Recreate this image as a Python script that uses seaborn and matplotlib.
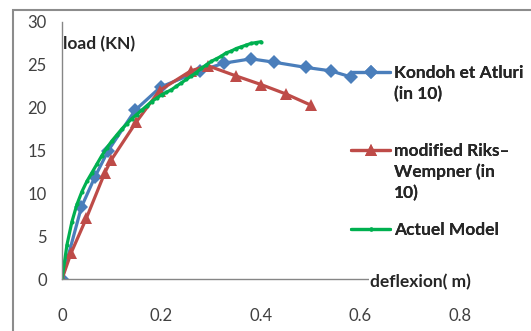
import seaborn as sns
import matplotlib.pyplot as plt
import pandas as pd
import numpy as np
from matplotlib.lines import Line2D
from matplotlib.patches import Rectangle

# deflexion (m) / load (KN)
kondoh_x = [0, 0.039, 0.066, 0.093, 0.147, 0.198, 0.277, 0.326, 0.38, 0.427, 0.49, 0.54, 0.58]
kondoh_y = [0, 8.4, 11.9, 15.0, 19.7, 22.4, 24.3, 25.2, 25.7, 25.3, 24.7, 24.3, 23.6]

riks_x = [0, 0.018, 0.049, 0.086, 0.099, 0.149, 0.196, 0.259, 0.293, 0.35, 0.4, 0.45, 0.5]
riks_y = [0, 3.0, 7.1, 12.4, 13.9, 18.3, 22.0, 24.3, 24.9, 23.7, 22.7, 21.6, 20.3]

actuel_x = [0, 0.01, 0.02, 0.03, 0.04, 0.05, 0.06, 0.07, 0.08, 0.09, 0.1,
            0.11, 0.12, 0.13, 0.14, 0.15, 0.16, 0.17, 0.18, 0.19, 0.2,
            0.21, 0.22, 0.23, 0.24, 0.25, 0.26, 0.27, 0.28, 0.29, 0.3,
            0.31, 0.32, 0.33, 0.34, 0.35, 0.36, 0.37, 0.38, 0.39, 0.4]
actuel_y = [0, 4.0, 6.7, 8.7, 10.2, 11.4, 12.4, 13.4, 14.4, 15.3, 16.1,
            16.8, 17.5, 18.1, 18.7, 19.2, 19.7, 20.2, 20.7, 21.1, 21.5,
            21.8, 22.1, 22.5, 22.9, 23.3, 23.7, 24.1, 24.6, 25.0, 25.4,
            25.7, 26.0, 26.4, 26.6, 26.9, 27.1, 27.3, 27.5, 27.6, 27.7]

labels = ["Kondoh et Atluri\n(in 10)", "modified Riks\u2013\nWempner (in\n10)", "Actuel Model"]
colors = ["#4A7EBB", "#BE4B48", "#00B050"]

sns.set_style("white")
plt.rcParams['font.family'] = ['Lato', 'DejaVu Sans']

fig = plt.figure(figsize=(5.31, 3.31), dpi=100)
ax = fig.add_axes([62/531, 1-279/331, 398/531, 257/331])

sns.lineplot(x=kondoh_x, y=kondoh_y, ax=ax, color=colors[0], lw=2.3, marker='D',
             markersize=7, markeredgewidth=0, sort=False, estimator=None)
sns.lineplot(x=riks_x, y=riks_y, ax=ax, color=colors[1], lw=2.3, marker='^',
             markersize=8, markeredgewidth=0, sort=False, estimator=None)
sns.lineplot(x=actuel_x, y=actuel_y, ax=ax, color=colors[2], lw=2.3, marker='o',
             markersize=3, markeredgewidth=0, sort=False, estimator=None)

ax.set_xlim(0, 0.8)
ax.set_ylim(0, 30)
ax.set_xticks([0, 0.2, 0.4, 0.6, 0.8])
ax.set_xticklabels(["0", "0.2", "0.4", "0.6", "0.8"])
ax.set_yticks([0, 5, 10, 15, 20, 25, 30])
sns.despine(ax=ax)
for s in ['left', 'bottom']:
    ax.spines[s].set_color('#868686')
    ax.spines[s].set_linewidth(1)
ax.tick_params(axis='both', direction='out', length=5, color='#868686',
               labelsize=12, labelcolor='#404040')
ax.tick_params(axis='x', pad=16)
ax.tick_params(axis='y', pad=6)

fig.text(63/531, 1-44/331, "load (KN)", fontsize=12.5, fontweight='bold', va='center', ha='left')
fig.text(370/531, 1-282/331, "deflexion( m)", fontsize=12.5, fontweight='bold', va='center',
         ha='left', bbox=dict(facecolor='white', edgecolor='none', pad=1))

# legend, one block per series, key aligned with first text line
tops = [72, 150, 229]
mk = ['D', '^', 'o']
ms = [7, 8, 3]
for lab, c, t, m, s in zip(labels, colors, tops, mk, ms):
    lines = lab.split("\n")
    h = [Line2D([], [], color=c, lw=2.3, marker=m, markersize=s, markeredgewidth=0)]
    h += [Line2D([], [], color='none')] * (len(lines) - 1)
    lg = fig.legend(h, lines, loc='upper left', bbox_to_anchor=(351/531, 1-(t-7)/331),
                    frameon=False, prop={'family': 'Lato', 'weight': 'bold', 'size': 12.5},
                    handlelength=2.25, handletextpad=0.22, labelspacing=0.28,
                    borderpad=0, borderaxespad=0)
    fig.add_artist(lg)

fig.add_artist(Rectangle((13/531, -0.05), 1.1, 1-10/331+0.05, transform=fig.transFigure,
                         fill=False, edgecolor='#8C8C8C', lw=1.5))

plt.savefig("out.png", dpi=100)
plt.close()
